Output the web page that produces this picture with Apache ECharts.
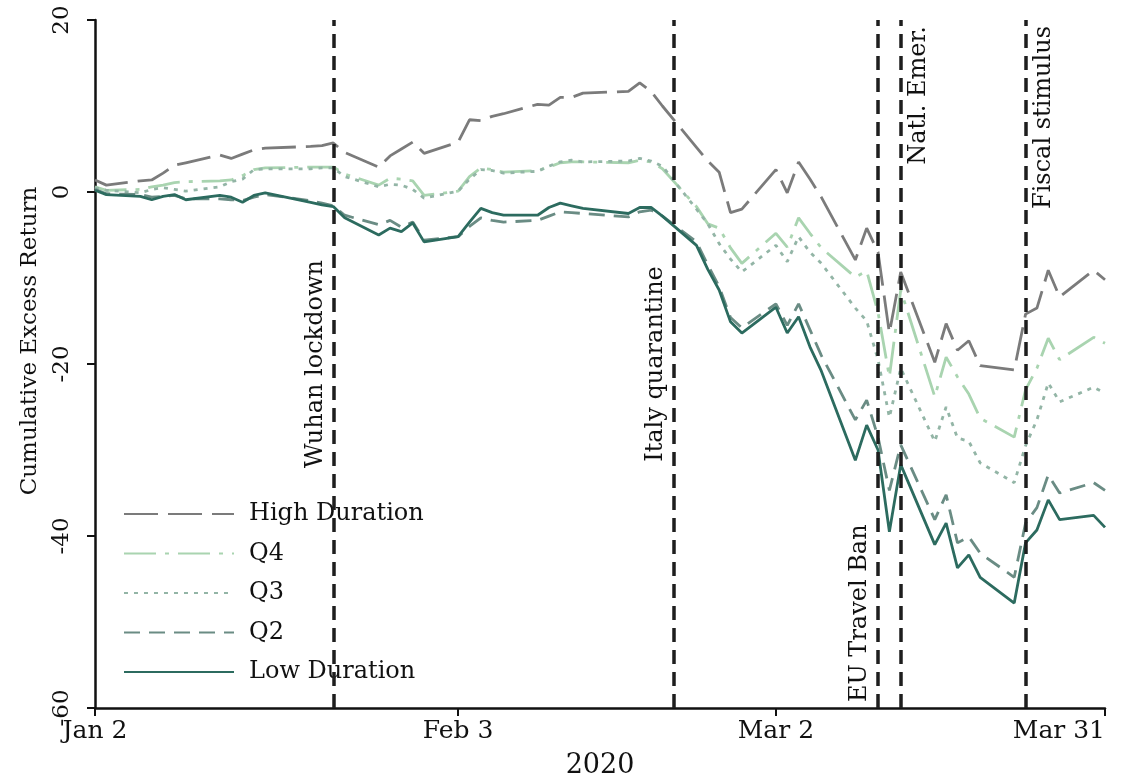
<!DOCTYPE html>
<html><head><meta charset="utf-8">
<script src="https://cdn.jsdelivr.net/npm/echarts@6/dist/echarts.min.js"></script>
<style>html,body{margin:0;padding:0;background:#fff}#c{width:1123px;height:782px}</style>
</head><body><div id="c"></div>
<script>
// Trading days
const dates = [
 '2020-01-02','2020-01-03','2020-01-06','2020-01-07','2020-01-08','2020-01-09','2020-01-10','2020-01-13','2020-01-14','2020-01-15','2020-01-16','2020-01-17','2020-01-21','2020-01-22','2020-01-23','2020-01-24','2020-01-27','2020-01-28','2020-01-29','2020-01-30','2020-01-31',
 '2020-02-03','2020-02-04','2020-02-05','2020-02-06','2020-02-07','2020-02-10','2020-02-11','2020-02-12','2020-02-13','2020-02-14','2020-02-18','2020-02-19','2020-02-20','2020-02-21','2020-02-24','2020-02-25','2020-02-26','2020-02-27','2020-02-28',
 '2020-03-02','2020-03-03','2020-03-04','2020-03-05','2020-03-06','2020-03-09','2020-03-10','2020-03-11','2020-03-12','2020-03-13','2020-03-16','2020-03-17','2020-03-18','2020-03-19','2020-03-20','2020-03-23','2020-03-24','2020-03-25','2020-03-26','2020-03-27','2020-03-30','2020-03-31'
];
const highDuration = [
 1.4, 0.8, 1.3, 1.4, 2.2, 3.1, 3.4, 4.3, 3.9, 4.4, 4.9, 5.1, 5.3, 5.4, 5.7, 4.6, 2.9, 4.2, 5.0, 5.8, 4.5,
 5.8, 8.4, 8.3, 8.8, 9.1, 10.2, 10.1, 11.0, 11.0, 11.5, 11.7, 12.7, 11.7, 10.0, 5.2, 3.6, 2.3, -2.4, -2.0,
 2.6, -0.1, 3.5, 1.5, -0.6, -7.9, -4.2, -7.0, -16.4, -9.3, -19.8, -15.3, -18.4, -17.3, -20.2, -20.7, -14.2, -13.5, -9.1, -12.2, -9.1, -10.2
];
const q4 = [
 0.6, 0.2, 0.3, 0.6, 0.8, 1.1, 1.2, 1.3, 1.4, 1.9, 2.6, 2.8, 2.9, 2.9, 2.9, 2.1, 0.8, 1.6, 1.5, 1.3, -0.4,
 0.1, 1.8, 2.8, 2.6, 2.3, 2.5, 2.9, 3.4, 3.5, 3.5, 3.4, 3.7, 3.5, 2.7, -1.7, -3.7, -4.2, -6.5, -8.3,
 -4.8, -6.4, -3.0, -4.8, -6.5, -9.9, -9.2, -14.0, -21.5, -11.4, -23.8, -19.2, -21.5, -23.5, -26.3, -28.5, -23.0, -20.5, -17.0, -19.5, -16.9, -17.6
];
const q3 = [
 0.5, 0.2, -0.1, 0.3, 0.5, 0.3, 0.1, 0.6, 1.2, 1.5, 2.6, 2.7, 2.7, 2.8, 2.8, 1.8, 0.6, 0.9, 0.8, 0.3, -0.7,
 0.1, 1.5, 2.6, 2.5, 2.2, 2.4, 3.0, 3.5, 3.7, 3.5, 3.6, 3.9, 3.6, 3.0, -2.0, -3.7, -6.0, -7.8, -9.3,
 -6.2, -8.1, -5.2, -7.0, -8.3, -13.5, -15.0, -19.5, -26.2, -20.5, -29.0, -25.0, -28.6, -29.0, -31.5, -33.8, -29.5, -26.5, -22.2, -24.4, -22.7, -23.4
];
const q2 = [
 0.3, -0.2, -0.3, -0.6, -0.5, -0.4, -0.8, -0.8, -0.9, -1.0, -0.6, -0.3, -1.0, -1.3, -1.6, -2.7, -3.8, -3.3, -4.1, -3.5, -5.6,
 -5.2, -4.0, -3.0, -3.3, -3.5, -3.3, -2.8, -2.3, -2.4, -2.5, -2.9, -2.3, -2.1, -2.8, -5.8, -8.5, -11.0, -14.6, -15.8,
 -13.0, -15.5, -13.0, -16.0, -19.0, -26.5, -24.2, -28.5, -34.7, -29.4, -38.1, -35.2, -40.8, -40.1, -42.0, -44.8, -38.5, -36.7, -32.9, -35.0, -33.8, -34.7
];
const lowDuration = [
 0.2, -0.3, -0.5, -0.9, -0.5, -0.3, -0.9, -0.4, -0.6, -1.2, -0.4, -0.1, -1.2, -1.5, -1.7, -3.0, -5.0, -4.2, -4.6, -3.6, -5.8,
 -5.2, -3.5, -1.9, -2.4, -2.7, -2.7, -1.8, -1.3, -1.6, -1.9, -2.5, -1.8, -1.8, -2.8, -6.2, -9.0, -11.4, -15.1, -16.4,
 -13.4, -16.4, -14.5, -18.0, -20.8, -31.2, -27.1, -30.0, -39.5, -31.7, -41.0, -38.5, -43.7, -42.2, -44.8, -47.8, -40.8, -39.3, -35.8, -38.1, -37.6, -39.0
];
const seriesNames = ['High Duration','Q4','Q3','Q2','Low Duration'];
const tickDates = ['2020-01-02','2020-02-03','2020-03-02','2020-03-31'];
const tickLabels = ['Jan 2','Feb 3','Mar 2','Mar 31'];
const eventDates = ['2020-01-23','2020-02-22','2020-03-11','2020-03-13','2020-03-24'];
const eventLabels = ['Wuhan lockdown','Italy quarantine','EU Travel Ban','Natl. Emer.','Fiscal stimulus'];
const yTicks = [-60, -40, -20, 0, 20];

const FONT = 'DejaVu Serif';
const P = s => { const [y, m, d] = s.split('-').map(Number); return Date.UTC(y, m - 1, d); };
const tickTs = tickDates.map(P);
const labelMap = {};
tickTs.forEach((t, i) => labelMap[t] = tickLabels[i]);

const styles = [
  {color:'#7b7b7b', type:[34,10]},
  {color:'#a9d4b0', type:[32,9,4,9]},
  {color:'#93b5a6', type:[4,6]},
  {color:'#6a8c84', type:[16,9]},
  {color:'#2c6b5f', type:'solid'}
];
const values = [highDuration, q4, q3, q2, lowDuration];
const eventPos = ['insideMiddleTop','insideMiddleTop','insideStartTop','insideEndBottom','insideEndBottom'];

const series = seriesNames.map((name, k) => ({
  name, type:'line', symbol:'none', z: 3,
  data: dates.map((d, i) => [P(d), values[k][i]]),
  lineStyle: {color: styles[k].color, width: 2.8, type: styles[k].type},
  itemStyle: {color: styles[k].color}
}));
series.push({
  name:'events', type:'line', data: [], silent: true, z: 4,
  markLine: {
    silent: true, symbol: 'none', animation: false,
    lineStyle: {color:'#1e1e1e', width: 3.5, type: [14, 8]},
    label: {fontFamily: FONT, fontSize: 24, color: '#111', distance: 6},
    data: eventDates.map((d, i) => ({xAxis: P(d), label: {formatter: eventLabels[i], position: eventPos[i]}}))
  }
});

const chart = echarts.init(document.getElementById('c'));
chart.setOption({
  animation: false,
  backgroundColor: '#fff',
  grid: {left: 95, right: 18, top: 20, bottom: 74, containLabel: false, outerBoundsMode: 'none'},
  xAxis: {
    type: 'value', min: P('2020-01-02'), max: P('2020-03-31'),
    name: '2020', nameLocation: 'middle', nameGap: 44,
    nameTextStyle: {fontFamily: FONT, fontSize: 27, color: '#111'},
    axisLine: {onZero: false, lineStyle: {color: '#111', width: 2.5}},
    axisTick: {show: true, length: 8, lineStyle: {color: '#111', width: 2}, customValues: tickTs},
    axisLabel: {customValues: tickTs, formatter: v => labelMap[v] || '', fontFamily: FONT, fontSize: 25, color: '#111', margin: 11, alignMaxLabel: 'right'},
    splitLine: {show: false}
  },
  yAxis: {
    type: 'value', min: -60, max: 20, interval: 20,
    axisLine: {show: true, lineStyle: {color: '#111', width: 2.5}},
    axisTick: {show: true, length: 8, lineStyle: {color: '#111', width: 2}},
    axisLabel: {rotate: 90, fontFamily: FONT, fontSize: 23, color: '#111', margin: 21, formatter: v => yTicks.includes(v) ? String(v) : ''},
    splitLine: {show: false}
  },
  legend: {
    data: seriesNames, orient: 'vertical', left: 118, top: 497,
    itemWidth: 110, itemHeight: 20, itemGap: 15.5,
    itemStyle: {opacity: 0},
    textStyle: {fontFamily: FONT, fontSize: 24, color: '#111', padding: [0,0,0,10]}
  },
  graphic: [{
    type: 'text', x: 30, y: 341,
    style: {text: 'Cumulative Excess Return', font: '23px "DejaVu Serif"', fill: '#111', align: 'center', verticalAlign: 'middle'},
    rotation: Math.PI / 2
  }],
  series
});
</script></body></html>
